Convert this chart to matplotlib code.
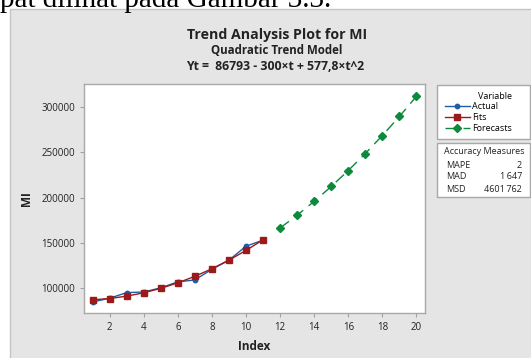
import numpy as np
import matplotlib.pyplot as plt
from matplotlib.patches import Rectangle

# index values
t_actual = [1, 2, 3, 4, 5, 6, 7, 8, 9, 10, 11]
t_fc = [12, 13, 14, 15, 16, 17, 18, 19, 20]

# MI series
actual = [84700, 88800, 95000, 95700, 100300, 106900, 109000, 120800, 130800, 146300, 153000]
fits = [87071, 88504, 91093, 94838, 99738, 105794, 113005, 121372, 130895, 141573, 153407]
forecasts = [166396, 180541, 195842, 212298, 229910, 248677, 268600, 289679, 311913]

y_ticks = [100000, 150000, 200000, 250000, 300000]
x_ticks = [2, 4, 6, 8, 10, 12, 14, 16, 18, 20]

acc_names = ['MAPE', 'MAD', 'MSD']
acc_values = ['2', '1\u2009647', '4601\u2009762']

plt.rcParams['font.family'] = ['Open Sans', 'DejaVu Sans']

W, H = 531, 358
fig = plt.figure(figsize=(W / 100, H / 100), dpi=100)
fig.patch.set_facecolor('white')

# cut-off document text above the chart
fig.text(0, 1 - 7 / H, 'pat dilihat pada Gambar 3.3.', family='Liberation Serif',
         fontsize=21, va='baseline', ha='left', color='black')

# gray minitab panel
fig.patches.append(Rectangle((10 / W, -0.01), 1, 1 - 9 / H + 0.01, transform=fig.transFigure,
                             facecolor='#e5e5e5', edgecolor='#c4c4c4', lw=1, zorder=0))

ax = fig.add_axes([84 / W, 1 - 313 / H, (425 - 84) / W, (313 - 84) / H])
ax.set_zorder(2)
ax.set_facecolor('white')

blue = '#1f5da8'
red = '#9c1a1a'
green = '#0a8a3a'

l1, = ax.plot(t_actual, actual, color=blue, lw=1, marker='o', ms=3.2, label='Actual', zorder=3)
l2, = ax.plot(t_actual, fits, color=red, lw=1, marker='s', ms=4.5, label='Fits', zorder=4)
l3, = ax.plot(t_fc, forecasts, color=green, lw=1, ls=(0, (8, 5)), marker='D', ms=4,
              label='Forecasts', zorder=3)

ax.set_xlim(0.5, 20.5)
ax.set_ylim(72500, 325500)
ax.set_xticks(x_ticks)
ax.set_yticks(y_ticks)
ax.set_yticklabels([str(v) for v in y_ticks])
ax.tick_params(colors='#a0a0a0', labelcolor='#222222', labelsize=7, length=3, width=0.8)
for s in ax.spines.values():
    s.set_color('#a8a8a8')
    s.set_linewidth(1)

ax.set_xlabel('Index', fontsize=8.5, color='#222222', fontweight='bold', labelpad=5)
ax.set_ylabel('MI', fontsize=8.5, color='#222222', fontweight='bold', labelpad=6)

fig.text(277 / W, 1 - 35 / H, 'Trend Analysis Plot for MI', ha='center', va='center',
         fontsize=10.2, fontweight='bold', color='#222222')
fig.text(277 / W, 1 - 51 / H, 'Quadratic Trend Model', ha='center', va='center',
         fontsize=8.3, fontweight='bold', color='#222222')
fig.text(275 / W, 1 - 67 / H, 'Yt =  86793 - 300\u00d7t + 577,8\u00d7t^2', ha='center', va='center',
         fontsize=8.8, fontweight='bold', color='#222222')

# legend boxes
for y0, y1 in [(85, 139), (143, 197)]:
    fig.patches.append(Rectangle((437 / W, 1 - y1 / H), 94 / W - 0.002, (y1 - y0) / H,
                                 transform=fig.transFigure, facecolor='white',
                                 edgecolor='#a8a8a8', lw=1, zorder=1))

leg = fig.legend(handles=[l1, l2, l3], title='Variable', loc='upper left',
                 bbox_to_anchor=(440 / W, 1 - 87 / H), frameon=False, fontsize=6.5,
                 title_fontsize=6.5, handlelength=2.8, handletextpad=0.3,
                 labelspacing=0.2, borderpad=0, alignment='right')
leg.set_zorder(5)

fig.text(484 / W, 1 - 152 / H, 'Accuracy Measures', ha='center', va='center',
         fontsize=6.5, color='#222222')
for i, (n, v) in enumerate(zip(acc_names, acc_values)):
    yy = 1 - (165 + 12 * i) / H
    fig.text(446 / W, yy, n, ha='left', va='center', fontsize=6.5, color='#222222')
    fig.text(522 / W, yy, v, ha='right', va='center', fontsize=6.5, color='#222222')

fig.savefig('out.png', dpi=100)
